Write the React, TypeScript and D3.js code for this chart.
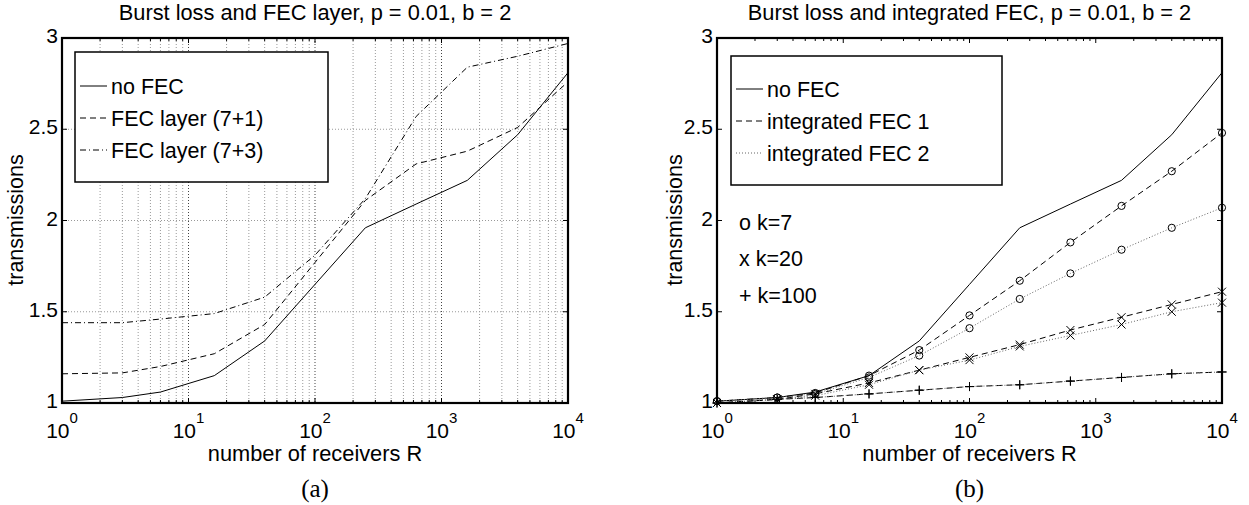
import React from "react";
import * as d3 from "d3";

const receivers = [1, 3, 6, 16, 40, 100, 250, 630, 1600, 4000, 10000];
const noFec = [1.01, 1.03, 1.06, 1.15, 1.34, 1.65, 1.96, 2.09, 2.22, 2.47, 2.81];
const fecLayer71 = [1.16, 1.165, 1.2, 1.27, 1.43, 1.77, 2.11, 2.31, 2.38, 2.51, 2.76];
const fecLayer73 = [1.44, 1.44, 1.46, 1.49, 1.58, 1.81, 2.12, 2.57, 2.84, 2.9, 2.97];
const int1k7 = [1.01, 1.03, 1.055, 1.15, 1.29, 1.48, 1.67, 1.88, 2.08, 2.27, 2.48];
const int2k7 = [1.01, 1.03, 1.05, 1.14, 1.26, 1.41, 1.57, 1.71, 1.84, 1.96, 2.07];
const int1k20 = [1.0, 1.02, 1.05, 1.11, 1.18, 1.25, 1.32, 1.4, 1.47, 1.54, 1.61];
const int2k20 = [1.0, 1.02, 1.04, 1.1, 1.18, 1.235, 1.31, 1.37, 1.43, 1.5, 1.55];
const int1k100 = [1.0, 1.02, 1.03, 1.05, 1.07, 1.09, 1.1, 1.12, 1.14, 1.16, 1.17];
const int2k100 = [1.0, 1.02, 1.03, 1.05, 1.07, 1.09, 1.1, 1.12, 1.14, 1.16, 1.17];
const yTicks = [1, 1.5, 2, 2.5, 3];
const yTickLabels = ["1", "1.5", "2", "2.5", "3"];
const xTicks = [1, 10, 100, 1000, 10000];
const xTickExps = ["0", "1", "2", "3", "4"];
const titleA = "Burst loss and FEC layer, p = 0.01, b = 2";
const titleB = "Burst loss and integrated FEC, p = 0.01, b = 2";
const legendA = ["no FEC", "FEC layer (7+1)", "FEC layer (7+3)"];
const legendB = ["no FEC", "integrated FEC 1", "integrated FEC 2"];
const markerNotes = ["o k=7", "x k=20", "+ k=100"];

const FONT = "Liberation Sans, Arial, Helvetica, sans-serif";
const TOP = 38;
const BOTTOM = 403;

const SOLID = undefined;
const DASHED = "6,4";
const DOTTED = "1,2";
const DASHDOT = "6,3,1,3";

function minorTicks(): number[] {
  const out: number[] = [];
  for (let e = 0; e < 4; e++) {
    for (let m = 2; m <= 9; m++) out.push(m * Math.pow(10, e));
  }
  return out;
}

type Series = { values: number[]; dash?: string; color?: string; marker?: "o" | "x" | "+" };

function Panel({
  left,
  right,
  title,
  grid,
  series,
  legend,
  legendBox,
  legendStyles,
  legendYs,
  letter,
  ylabelX,
}: {
  left: number;
  right: number;
  title: string;
  grid: boolean;
  series: Series[];
  legend: string[];
  legendBox: [number, number, number, number];
  legendStyles: { dash?: string; color?: string }[];
  legendYs: number[];
  letter: string;
  ylabelX: number;
}) {
  const x = d3.scaleLog().domain([1, 1e4]).range([left, right]);
  const y = d3.scaleLinear().domain([1, 3]).range([BOTTOM, TOP]);
  const line = d3
    .line<number>()
    .x((_, i) => x(receivers[i]))
    .y((v) => y(v));
  const minors = minorTicks();
  const cx = (left + right) / 2;
  const [lx0, ly0, lx1, ly1] = legendBox;
  return (
    <g>
      {grid && (
        <g>
          {minors.map((m) => (
            <line key={"gm" + m} x1={x(m)} x2={x(m)} y1={TOP} y2={BOTTOM} stroke="#999" strokeWidth={1} strokeDasharray="1,2" />
          ))}
          {xTicks.slice(1, -1).map((t) => (
            <line key={"gM" + t} x1={x(t)} x2={x(t)} y1={TOP} y2={BOTTOM} stroke="#444" strokeWidth={1} strokeDasharray="1,2" />
          ))}
          {yTicks.slice(1, -1).map((t) => (
            <line key={"gy" + t} x1={left} x2={right} y1={y(t)} y2={y(t)} stroke="#999" strokeWidth={1} strokeDasharray="1,2" />
          ))}
        </g>
      )}
      {minors.map((m) => (
        <g key={"tm" + m}>
          <line x1={x(m)} x2={x(m)} y1={BOTTOM} y2={BOTTOM - 3} stroke="#000" strokeWidth={1} />
          <line x1={x(m)} x2={x(m)} y1={TOP} y2={TOP + 3} stroke="#000" strokeWidth={1} />
        </g>
      ))}
      {xTicks.map((t) => (
        <g key={"tM" + t}>
          <line x1={x(t)} x2={x(t)} y1={BOTTOM} y2={BOTTOM - 5} stroke="#000" strokeWidth={1} />
          <line x1={x(t)} x2={x(t)} y1={TOP} y2={TOP + 5} stroke="#000" strokeWidth={1} />
        </g>
      ))}
      {yTicks.map((t) => (
        <g key={"ty" + t}>
          <line x1={left} x2={left + 5} y1={y(t)} y2={y(t)} stroke="#000" strokeWidth={1} />
          <line x1={right} x2={right - 5} y1={y(t)} y2={y(t)} stroke="#000" strokeWidth={1} />
        </g>
      ))}
      {series.map((s, i) => (
        <g key={"s" + i}>
          <path d={line(s.values) || ""} fill="none" stroke={s.color || "#000"} strokeWidth={1} strokeDasharray={s.dash} />
          {s.marker &&
            s.values.map((v, j) => {
              const px = x(receivers[j]);
              const py = y(v);
              if (s.marker === "o") return <circle key={j} cx={px} cy={py} r={3.6} fill="none" stroke="#000" strokeWidth={1} />;
              if (s.marker === "x")
                return (
                  <path key={j} d={`M${px - 4},${py - 4}L${px + 4},${py + 4}M${px - 4},${py + 4}L${px + 4},${py - 4}`} stroke="#000" strokeWidth={1} />
                );
              return <path key={j} d={`M${px - 4.5},${py}L${px + 4.5},${py}M${px},${py - 4.5}L${px},${py + 4.5}`} stroke="#000" strokeWidth={1} />;
            })}
        </g>
      ))}
      <rect x={left} y={TOP} width={right - left} height={BOTTOM - TOP} fill="none" stroke="#000" strokeWidth={2.2} />
      {yTicks.map((t, i) => (
        <text key={"yl" + t} x={left - 4} y={y(t) + 5} textAnchor="end" fontFamily={FONT} fontSize={21}>
          {yTickLabels[i]}
        </text>
      ))}
      {xTicks.map((t, i) => (
        <text key={"xl" + t} x={x(t)} y={438} textAnchor="middle" fontFamily={FONT} fontSize={21}>
          10
          <tspan fontSize={15} dy={-15}>
            {xTickExps[i]}
          </tspan>
        </text>
      ))}
      <text x={cx} y={20} textAnchor="middle" fontFamily={FONT} fontSize={21.8}>
        {title}
      </text>
      <text x={cx} y={461} textAnchor="middle" fontFamily={FONT} fontSize={21.8}>
        number of receivers R
      </text>
      <text transform={`translate(${ylabelX},220) rotate(-90)`} textAnchor="middle" fontFamily={FONT} fontSize={21.5}>
        transmissions
      </text>
      <text x={cx} y={497} textAnchor="middle" fontFamily="Liberation Serif, Times New Roman, serif" fontSize={25}>
        {letter}
      </text>
      <rect x={lx0} y={ly0} width={lx1 - lx0} height={ly1 - ly0} fill="#fff" stroke="#000" strokeWidth={1.5} />
      {legend.map((l, i) => (
        <g key={"lg" + i}>
          <line x1={lx0 + 5} x2={lx0 + 32} y1={legendYs[i]} y2={legendYs[i]} stroke={legendStyles[i].color || "#000"} strokeWidth={1} strokeDasharray={legendStyles[i].dash} />
          <text x={lx0 + 36} y={legendYs[i] + 7.5} fontFamily={FONT} fontSize={21.5}>
            {l}
          </text>
        </g>
      ))}
    </g>
  );
}

export default function App() {
  return (
    <svg width={1249} height={505} style={{ position: "absolute", left: 0, top: 0, background: "#fff" }}>
      <rect x={0} y={0} width={1249} height={505} fill="#fff" />
      <Panel
        left={62}
        right={568}
        title={titleA}
        grid={true}
        series={[
          { values: noFec, dash: SOLID },
          { values: fecLayer71, dash: DASHED },
          { values: fecLayer73, dash: DASHDOT },
        ]}
        legend={legendA}
        legendBox={[75, 52, 328, 182]}
        legendStyles={[{ dash: SOLID }, { dash: DASHED }, { dash: DASHDOT }]}
        legendYs={[86, 118, 150]}
        letter="(a)"
        ylabelX={23}
      />
      <Panel
        left={717}
        right={1222}
        title={titleB}
        grid={false}
        series={[
          { values: noFec, dash: SOLID },
          { values: int1k7, dash: DASHED, marker: "o" },
          { values: int2k7, dash: DOTTED, color: "#666", marker: "o" },
          { values: int1k20, dash: DASHED, marker: "x" },
          { values: int2k20, dash: DOTTED, color: "#666", marker: "x" },
          { values: int1k100, dash: DASHED, marker: "+" },
          { values: int2k100, dash: DOTTED, color: "#666", marker: "+" },
        ]}
        legend={legendB}
        legendBox={[731, 56, 1002, 185]}
        legendStyles={[{ dash: SOLID }, { dash: DASHED }, { dash: DOTTED, color: "#666" }]}
        legendYs={[89, 121, 153]}
        letter="(b)"
        ylabelX={682}
      />
      {markerNotes.map((n, i) => (
        <text key={n} x={739} y={[222, 258, 295][i] + 7.5} fontFamily={FONT} fontSize={21.5}>
          {n}
        </text>
      ))}
    </svg>
  );
}
